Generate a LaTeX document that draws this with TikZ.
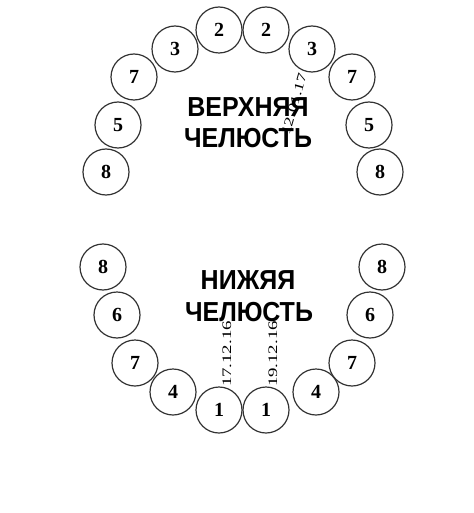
\documentclass[tikz,border=0pt]{standalone}
\usepackage{fontspec}
\setmainfont{Liberation Serif}
\newfontfamily\jawfont{Liberation Sans}
\begin{document}
\begin{tikzpicture}[x=1pt,y=-1pt,
  tooth/.style={circle,draw=black!80,line width=1.2pt,minimum size=46pt,inner sep=0pt,font=\fontsize{20}{20}\selectfont\bfseries},
  jaw/.style={font=\jawfont\bfseries\fontsize{25}{25}\selectfont,inner sep=0pt},
  datelbl/.style={font=\fontsize{13}{13}\selectfont,inner sep=0pt}]
\useasboundingbox (0,0) rectangle (473,513);
% upper jaw
\node[tooth] (u2l) at (219,30) {2};
\node[tooth] (u2r) at (266,30) {2};
\node[tooth] (u3l) at (175,49) {3};
\node[tooth] (u3r) at (312,49) {3};
\node[tooth] (u7l) at (134,77) {7};
\node[tooth] (u7r) at (352,77) {7};
\node[tooth] (u5l) at (118,125) {5};
\node[tooth] (u5r) at (369,125) {5};
\node[tooth] (u8l) at (106,172) {8};
\node[tooth] (u8r) at (380,172) {8};
\node[jaw] (t1) at (248,107) {\scalebox{1}[1.1]{ВЕРХНЯЯ}};
\node[jaw] (t2) at (248,138) {\scalebox{1}[1.1]{ЧЕЛЮСТЬ}};
\node[datelbl,rotate=74] (d0) at (294,104) {\scalebox{1.4}[1]{12.01.17}};
% lower jaw
\node[tooth] (l8l) at (103,267) {8};
\node[tooth] (l8r) at (382,267) {8};
\node[tooth] (l6l) at (117,315) {6};
\node[tooth] (l6r) at (370,315) {6};
\node[tooth] (l7l) at (135,363) {7};
\node[tooth] (l7r) at (352,363) {7};
\node[tooth] (l4l) at (173,392) {4};
\node[tooth] (l4r) at (316,392) {4};
\node[jaw] (b1) at (248,280) {\scalebox{1}[1.1]{НИЖЯЯ}};
\node[jaw] (b2) at (249,312) {\scalebox{1}[1.1]{ЧЕЛЮСТЬ}};
\node[datelbl,rotate=90] (d1) at (227,354) {\scalebox{1.45}[1]{17.12.16}};
\node[datelbl,rotate=90] (d2) at (273,354) {\scalebox{1.45}[1]{19.12.16}};
\node[tooth,fill=white] (l1l) at (219,410) {1};
\node[tooth,fill=white] (l1r) at (266,410) {1};
\end{tikzpicture}
\end{document}
